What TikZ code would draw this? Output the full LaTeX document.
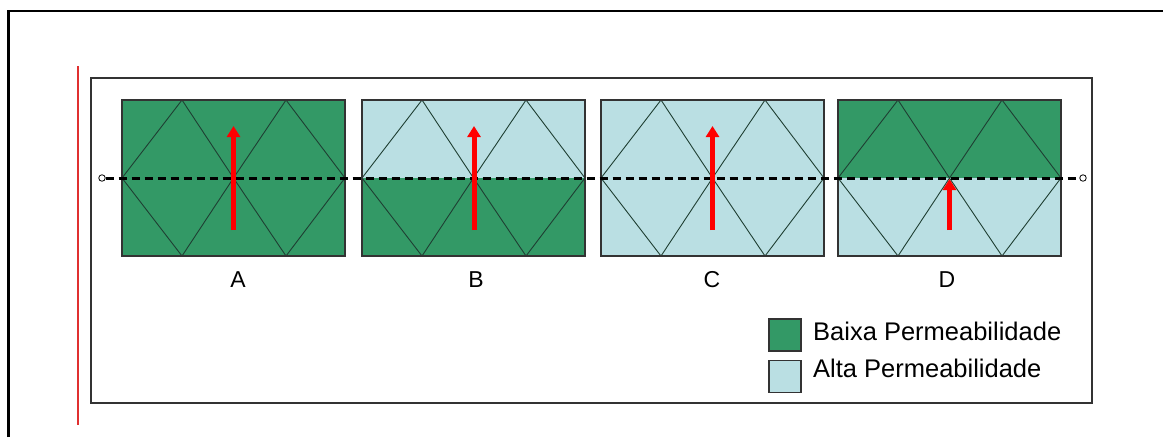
\documentclass[tikz,border=0pt]{standalone}
\usepackage{fontspec}
\setmainfont{Liberation Sans}
\usetikzlibrary{arrows.meta}
\definecolor{lowp}{HTML}{339966}
\definecolor{highp}{HTML}{BADFE3}
\definecolor{trigray}{HTML}{1F3F33}
\definecolor{panelgray}{HTML}{333333}
\definecolor{redline}{HTML}{E03030}
\tikzset{
  panel/.style={draw=panelgray, line width=1.3pt, minimum width=223pt, minimum height=156pt, inner sep=0pt, outer sep=0pt},
  tri/.style={draw=trigray, line width=0.9pt},
  lbl/.style={font=\fontsize{23}{27}\selectfont, inner sep=0pt, anchor=base},
  flow/.style={draw=red, line width=5pt, -{Triangle[width=13pt,length=11pt]}},
  axis/.style={draw=black, line width=3pt, dash pattern=on 8pt off 5pt},
  endpt/.style={circle, draw=black, fill=white, line width=0.8pt, minimum size=6.5pt, inner sep=0pt},
  swatch/.style={draw=panelgray, line width=1.2pt, minimum width=32pt, minimum height=32pt, inner sep=0pt},
  legtext/.style={font=\fontsize{25.5}{29}\selectfont, inner sep=0pt, anchor=base west}
}
\begin{document}
\begin{tikzpicture}[x=1pt,y=-1pt]
\useasboundingbox (0,0) rectangle (1163,437);
% outer frame
\draw[line width=2.5pt] (8.5,437) -- (8.5,11) -- (1163,11);
% red margin line
\draw[redline, line width=2pt] (77.5,66) -- (77.5,425);
% inner box
\node[draw=panelgray, line width=1.2pt, minimum width=1001pt, minimum height=325pt, inner sep=0pt, outer sep=0pt] (frame) at (591.5,240.5) {};
% panels
\foreach \n/\L/\tc/\bc/\lx in {A/122/lowp/lowp/238, B/362/highp/lowp/476, C/601/highp/highp/712, D/838/lowp/highp/947} {
  \fill[\tc] (\L,100) rectangle ({\L+223},178);
  \fill[\bc] (\L,178) rectangle ({\L+223},256);
  \draw[tri] (\L,178) -- ({\L+60},100) -- ({\L+111.5},178) -- ({\L+164},100) -- ({\L+223},178)
             -- ({\L+164},256) -- ({\L+111.5},178) -- ({\L+60},256) -- cycle;
  \node[panel] (p\n) at ({\L+111.5},178) {};
  \node[lbl] (l\n) at (\lx,287) {\n};
}
% dashed axis
\node[endpt] (e1) at (102,178) {};
\node[endpt] (e2) at (1083,178) {};
\draw[axis] (e1) -- (e2);
% arrows
\coordinate (sA) at (233.5,230); \coordinate (tA) at (233.5,126);
\coordinate (sB) at (474,230);   \coordinate (tB) at (474,126);
\coordinate (sC) at (712.5,230); \coordinate (tC) at (712.5,126);
\coordinate (sD) at (949.5,230); \coordinate (tD) at (949.5,179);
\draw[flow] (sA) -- (tA);
\draw[flow] (sB) -- (tB);
\draw[flow] (sC) -- (tC);
\draw[flow] (sD) -- (tD);
% legend
\node[swatch, fill=lowp] (s1) at (785,335) {};
\node[swatch, fill=highp, minimum height=31.5pt] (s2) at (785,376.5) {};
\node[legtext] (t1) at (813,340) {Baixa Permeabilidade};
\node[legtext] (t2) at (813,377) {Alta Permeabilidade};
\end{tikzpicture}
\end{document}
